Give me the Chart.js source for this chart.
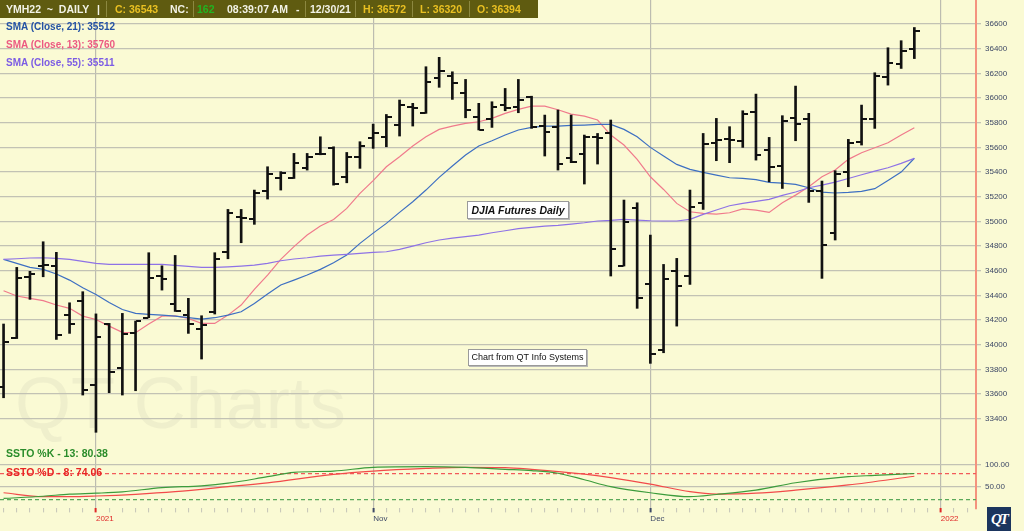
<!doctype html>
<html lang="en">
<head>
<meta charset="utf-8">
<title>YMH22 Daily | DJIA Futures</title>
<script src="https://cdn.jsdelivr.net/npm/chart.js@4.4.0/dist/chart.umd.min.js"></script>
<style>
  body { margin: 0; background: #fafad4; font-family: "Liberation Sans", Arial, sans-serif; }
  #wrap { position: relative; width: 1024px; height: 531px; overflow: hidden; background: #fafad4; }
  #wm { position: absolute; left: 15px; top: 367px; font-size: 72px; line-height: 1; color: #efefcc; white-space: pre; }
  canvas { position: absolute; left: 0; top: 0; }
  .hdr { position: absolute; left: 0; top: 0; width: 538px; height: 18px; background: #5f5b10; }
  .hdr span { position: absolute; top: 3px; font-size: 10.5px; font-weight: bold; line-height: 12px; white-space: pre; color: #f2f2e6; }
  .hdr i { position: absolute; top: 1px; width: 1px; height: 16px; background: #8c8840; }
  .gold { color: #e9c022 !important; }
  .grn { color: #22b422 !important; }
  .lg { position: absolute; left: 6px; font-size: 10px; font-weight: bold; line-height: 12px; white-space: pre; }
  .box { position: absolute; background: #fff; border: 1px solid #9a9a9a; box-shadow: 1px 1px 0 #b8b8b8; text-align: center; color: #111; white-space: pre; }
  #qt { position: absolute; left: 987px; top: 507px; width: 24px; height: 24px; background: #1b355e; color: #fff;
        font: bold italic 15px "Liberation Serif", serif; line-height: 24px; text-align: center; letter-spacing: -2px; }
</style>
</head>
<body>
<div id="wrap">
  <div id="wm">QT Charts</div>
  <canvas id="chart" width="1024" height="531"></canvas>

  <div class="hdr">
    <span style="left:6px">YMH22  ~  DAILY</span>
    <span style="left:97px">|</span>
    <i style="left:106px"></i>
    <span class="gold" style="left:115px">C: 36543</span>
    <span style="left:170px">NC:</span>
    <i style="left:193px"></i>
    <span class="grn" style="left:197px">162</span>
    <span style="left:227px">08:39:07 AM</span>
    <span style="left:296px">-</span>
    <i style="left:305px"></i>
    <span style="left:310px">12/30/21</span>
    <i style="left:355px"></i>
    <span class="gold" style="left:363px">H: 36572</span>
    <i style="left:412px"></i>
    <span class="gold" style="left:420px">L: 36320</span>
    <i style="left:469px"></i>
    <span class="gold" style="left:477px">O: 36394</span>
  </div>

  <div class="lg" style="top:21px; color:#2452a4">SMA (Close, 21): 35512</div>
  <div class="lg" style="top:39px; color:#ec5a82">SMA (Close, 13): 35760</div>
  <div class="lg" style="top:57px; color:#7c5ce4">SMA (Close, 55): 35511</div>
  <div class="lg" style="top:447px; font-size:10.5px; color:#2a8c2a">SSTO %K - 13: 80.38</div>
  <div class="lg" style="top:466px; font-size:10.5px; color:#e82424">SSTO %D - 8: 74.06</div>

  <div class="box" style="left:467px; top:201px; width:100px; height:16px; font:bold italic 10.5px/16px 'Liberation Sans', Arial, sans-serif;">DJIA Futures Daily</div>
  <div class="box" style="left:468px; top:349px; width:117px; height:15px; font:9px/15px 'Liberation Sans', Arial, sans-serif;">Chart from QT Info Systems</div>

  <div id="qt">QT</div>
</div>

<script>
// daily bars, 22 Sep 2021 .. 30 Dec 2021
const open  = [33660, 34057, 34550, 34640, 34640, 34240, 34355, 33675, 34168, 33808,
               34097, 34220, 34560, 34327, 34245, 34130, 34267, 34755, 35038, 35020,
               35250, 35354, 35354, 35435, 35543, 35592, 35362, 35519, 35675, 35686,
               35781, 35924, 35881, 36160, 36178, 36043, 35849, 35827, 35943, 35930,
               36011, 35773, 35762, 35511, 35543, 35681, 35713, 34640, 35111, 34489,
               33957, 34600, 34559, 35146, 35638, 35665, 35655, 35884, 35578, 35451,
               35835, 35830, 35249, 34908, 35403, 35640, 35830, 36173, 36273, 36394];
const high  = [34168, 34627, 34595, 34835, 34749, 34340, 34430, 34250, 34173, 34254,
               34192, 34746, 34640, 34724, 34376, 34235, 34746, 35097, 35097, 35254,
               35443, 35403, 35551, 35551, 35686, 35605, 35559, 35646, 35789, 35867,
               35984, 35957, 36254, 36330, 36213, 36151, 35957, 35970, 36078, 36151,
               36015, 35862, 35903, 35862, 35700, 35713, 35822, 35173, 35151, 34889,
               34651, 34700, 35254, 35713, 35835, 35768, 35897, 36032, 35681, 35857,
               36097, 35876, 35327, 35411, 35665, 35943, 36205, 36408, 36465, 36572];
const low   = [33570, 34050, 34368, 34551, 34043, 34092, 33592, 33290, 33611, 33592,
               33627, 34219, 34443, 34270, 34092, 33884, 34249, 34697, 34827, 34976,
               35181, 35254, 35348, 35416, 35540, 35294, 35313, 35430, 35592, 35605,
               35692, 35773, 35876, 36087, 35989, 35840, 35741, 35762, 35897, 35881,
               35754, 35530, 35416, 35476, 35303, 35465, 34557, 34638, 34295, 33849,
               33935, 34151, 34489, 35097, 35492, 35476, 35600, 35497, 35321, 35267,
               35654, 35154, 34538, 34849, 35281, 35619, 35754, 36105, 36240, 36320];
const close = [34025, 34540, 34570, 34645, 34075, 34168, 33630, 34065, 33775, 34085,
               34190, 34543, 34530, 34273, 34168, 34160, 34692, 35070, 35030, 35227,
               35381, 35390, 35470, 35524, 35550, 35300, 35524, 35610, 35713, 35850,
               35943, 35916, 36127, 36222, 36124, 35903, 35741, 35930, 35916, 35984,
               35768, 35727, 35465, 35484, 35681, 35673, 34773, 34997, 34376, 33922,
               34532, 34476, 35119, 35627, 35659, 35659, 35870, 35538, 35443, 35816,
               35789, 35249, 34808, 35381, 35632, 35830, 36178, 36281, 36381, 36543];

const sma21 = [34692, 34659, 34627, 34611, 34573, 34524, 34462, 34408, 34343, 34286,
               34254, 34246, 34240, 34232, 34219, 34208, 34219, 34240, 34267, 34335,
               34411, 34484, 34524, 34565, 34611, 34665, 34727, 34822, 34905, 34984,
               35073, 35159, 35254, 35357, 35449, 35538, 35611, 35654, 35700, 35741,
               35762, 35773, 35773, 35778, 35781, 35786, 35786, 35746, 35686, 35600,
               35530, 35462, 35422, 35397, 35375, 35354, 35348, 35338, 35316, 35311,
               35300, 35273, 35238, 35230, 35235, 35243, 35265, 35332, 35400, 35512];
const sma13 = [34438, 34395, 34376, 34357, 34322, 34295, 34232, 34205, 34151, 34100,
               34097, 34168, 34232, 34235, 34213, 34173, 34173, 34240, 34322, 34449,
               34565, 34692, 34795, 34889, 34962, 35016, 35105, 35227, 35330, 35443,
               35524, 35611, 35686, 35746, 35773, 35795, 35808, 35835, 35876, 35908,
               35935, 35935, 35905, 35870, 35854, 35822, 35700, 35619, 35503, 35362,
               35259, 35146, 35078, 35065, 35059, 35070, 35102, 35092, 35073, 35151,
               35213, 35281, 35362, 35416, 35503, 35557, 35597, 35638, 35700, 35760];
const sma55 = [34692, 34697, 34703, 34705, 34700, 34692, 34676, 34659, 34651, 34652,
               34652, 34652, 34651, 34643, 34635, 34627, 34627, 34632, 34638, 34646,
               34659, 34681, 34695, 34705, 34719, 34727, 34733, 34741, 34749, 34754,
               34773, 34800, 34827, 34849, 34865, 34876, 34889, 34908, 34924, 34941,
               34951, 34962, 34968, 34978, 34989, 35003, 35008, 35016, 35011, 35005,
               35003, 35003, 35016, 35057, 35092, 35127, 35146, 35162, 35178, 35211,
               35238, 35273, 35294, 35319, 35348, 35378, 35408, 35435, 35470, 35511];

// slow stochastic, read at these bar indexes
const kIdx = [0, 3, 5, 7, 9, 12, 15, 17, 20, 22, 25, 28, 32, 35, 38, 40, 42, 44, 46, 49, 52, 54, 57, 60, 64, 66, 69];
const kVal = [23, 28, 33, 35, 38, 48, 52, 58, 73, 83, 86, 94.5, 96, 94.5, 90, 87, 81, 66, 50, 36, 27, 32, 42, 59, 73, 76, 80.38];
const dIdx = [0, 3, 5, 7, 10, 13, 17, 20, 25, 28, 32, 35, 38, 40, 44, 46, 49, 52, 54, 57, 60, 64, 69];
const dVal = [36, 27, 27, 28.5, 32.5, 38.5, 50, 59, 78.5, 86, 92, 94.7, 94, 90, 79, 71, 56, 38.5, 33, 35, 42, 54, 74.06];
const stochLevels = [80, 20];

const priceTicks = [33400, 33600, 33800, 34000, 34200, 34400, 34600, 34800, 35000,
                    35200, 35400, 35600, 35800, 36000, 36200, 36400, 36600];
const stochTicks = [50, 100];
const tickIdx  = [7, 28, 49, 71];
const tickText = ['2021', 'Nov', 'Dec', '2022'];
const tickTint = ['#e02828', '#3d4866', '#3d4866', '#e02828'];
const lastSlot = 73;

const xMin = -0.27, xMax = 73.67;
const idx = open.map((_, i) => i);

function tickImg(side) {
  const c = document.createElement('canvas');
  c.width = 11; c.height = 2;
  const g = c.getContext('2d');
  g.fillStyle = '#111';
  if (side < 0) g.fillRect(0, 0, 5, 2); else g.fillRect(6, 0, 5, 2);
  return c;
}

const major = c => c.tick && tickIdx.includes(c.tick.value);
const labelSize = { size: 8 };
Chart.defaults.font.family = '"Liberation Sans", Arial, sans-serif';

new Chart(document.getElementById('chart'), {
  type: 'bar',
  data: {
    datasets: [
      { type: 'bar', data: idx.map(i => ({ x: i, y: [low[i], high[i]] })), backgroundColor: '#111',
        barThickness: 2, order: 1, yAxisID: 'y' },
      { type: 'line', data: idx.map(i => ({ x: i, y: open[i] })), showLine: false,
        pointStyle: tickImg(-1), pointRadius: 3, order: 0, yAxisID: 'y' },
      { type: 'line', data: idx.map(i => ({ x: i, y: close[i] })), showLine: false,
        pointStyle: tickImg(1), pointRadius: 3, order: 0, yAxisID: 'y' },
      { type: 'line', data: idx.map(i => ({ x: i, y: sma55[i] })), borderColor: '#8e72e6',
        borderWidth: 1.2, pointRadius: 0, order: 3, yAxisID: 'y' },
      { type: 'line', data: idx.map(i => ({ x: i, y: sma21[i] })), borderColor: '#3d6fc2',
        borderWidth: 1.2, pointRadius: 0, order: 3, yAxisID: 'y' },
      { type: 'line', data: idx.map(i => ({ x: i, y: sma13[i] })), borderColor: '#f07a8c',
        borderWidth: 1.2, pointRadius: 0, order: 3, yAxisID: 'y' },
      { type: 'line', data: [{ x: xMin, y: stochLevels[0] }, { x: xMax, y: stochLevels[0] }],
        borderColor: '#f25a5a', borderWidth: 1.2, borderDash: [4, 3], pointRadius: 0, order: 4, yAxisID: 'y2' },
      { type: 'line', data: [{ x: xMin, y: stochLevels[1] }, { x: xMax, y: stochLevels[1] }],
        borderColor: '#5aa85a', borderWidth: 1.2, borderDash: [4, 3], pointRadius: 0, order: 4, yAxisID: 'y2' },
      { type: 'line', data: kIdx.map((x, j) => ({ x, y: kVal[j] })), borderColor: '#3c9c3c',
        borderWidth: 1.2, pointRadius: 0, cubicInterpolationMode: 'monotone', order: 2, yAxisID: 'y2' },
      { type: 'line', data: dIdx.map((x, j) => ({ x, y: dVal[j] })), borderColor: '#f24a4a',
        borderWidth: 1.2, pointRadius: 0, cubicInterpolationMode: 'monotone', order: 2, yAxisID: 'y2' }
    ]
  },
  options: {
    responsive: false,
    animation: false,
    events: [],
    layout: { autoPadding: false, padding: 0 },
    plugins: { legend: { display: false }, tooltip: { enabled: false } },
    scales: {
      x: {
        type: 'linear', min: xMin, max: xMax, offset: false,
        afterBuildTicks: s => { s.ticks = []; for (let i = 0; i <= lastSlot; i++) s.ticks.push({ value: i }); },
        afterFit: s => { s.height = 22.6; s.paddingLeft = 0; s.paddingRight = 0; },
        border: { display: false },
        grid: {
          offset: false, lineWidth: 1.2, tickLength: 4,
          color: c => major(c) ? '#bcbcb0' : 'rgba(0,0,0,0)',
          tickColor: c => major(c) ? tickTint[tickIdx.indexOf(c.tick.value)] : '#c4c4b8',
          tickWidth: c => major(c) ? 2 : 1
        },
        ticks: {
          autoSkip: false, maxRotation: 0, align: 'start', padding: 2, font: labelSize,
          color: c => major(c) ? tickTint[tickIdx.indexOf(c.tick.value)] : '#3d4866',
          callback: v => { const k = tickIdx.indexOf(v); return k < 0 ? '' : tickText[k]; }
        }
      },
      y: {
        type: 'linear', position: 'right', stack: 'panes', stackWeight: 445,
        min: 33187, max: 36795, beginAtZero: false,
        afterBuildTicks: s => { s.ticks = priceTicks.map(v => ({ value: v })); },
        afterFit: s => { s.width = 48; s.paddingTop = 0; s.paddingBottom = 0; },
        border: { color: '#f4937e', width: 2 },
        grid: { color: '#c2c2b4', lineWidth: 1.3, tickLength: 5 },
        ticks: { padding: 4, font: labelSize, color: '#3d4866', callback: v => String(v) }
      },
      y2: {
        type: 'linear', position: 'right', stack: 'panes', stackWeight: 63.4,
        min: 0, max: 146, offset: false,
        afterBuildTicks: s => { s.ticks = stochTicks.map(v => ({ value: v })); },
        afterFit: s => { s.width = 48; s.paddingTop = 0; s.paddingBottom = 0; },
        border: { color: '#f4937e', width: 2 },
        grid: { color: '#c2c2b4', lineWidth: 1.3, tickLength: 5 },
        ticks: { padding: 4, font: labelSize, color: '#3d4866', callback: v => v.toFixed(2) }
      }
    }
  }
});
</script>
</body>
</html>
